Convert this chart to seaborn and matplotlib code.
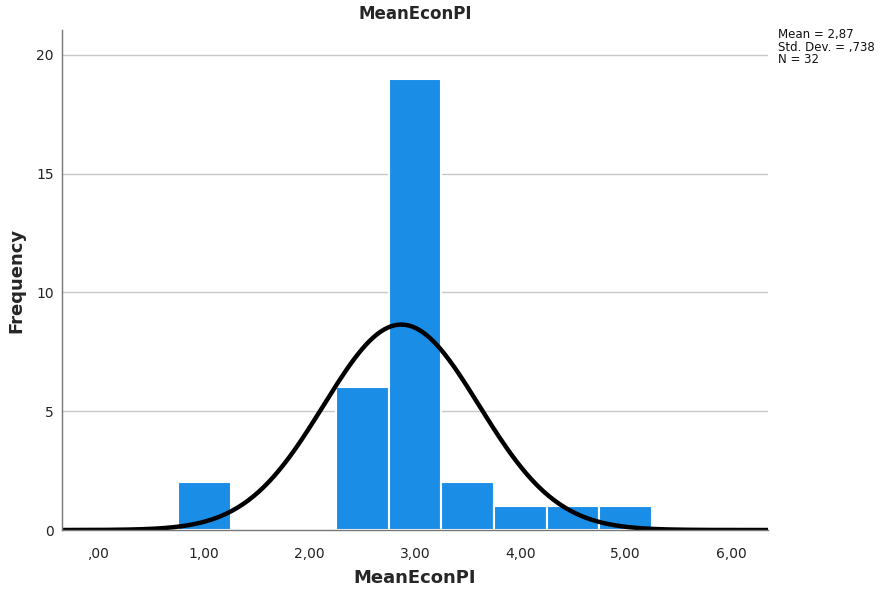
import numpy as np
import pandas as pd
import matplotlib
matplotlib.use("Agg")
import matplotlib.pyplot as plt
import seaborn as sns
from matplotlib.ticker import FuncFormatter

# Histogram of MeanEconPI (bin centres and frequencies)
bin_centers = [1.0, 1.5, 2.0, 2.5, 3.0, 3.5, 4.0, 4.5, 5.0]
frequencies = [2, 0, 0, 6, 19, 2, 1, 1, 1]
bin_width = 0.5

mean_value = 2.87
std_value = 0.738
n_cases = 32

x_ticks = [0, 1, 2, 3, 4, 5, 6]
y_ticks = [0, 5, 10, 15, 20]

df = pd.DataFrame({"MeanEconPI": bin_centers, "Frequency": frequencies})
bin_range = (min(bin_centers) - bin_width / 2, max(bin_centers) + bin_width / 2)

sns.set_theme(style="white")
plt.rcParams["font.family"] = ["DejaVu Sans"]

fig = plt.figure(figsize=(8.83, 5.89), dpi=100)
ax = fig.add_axes([62 / 883, 1 - 530 / 589, (768 - 62) / 883, (530 - 30) / 589])

ax.set_axisbelow(True)
ax.yaxis.grid(True, color="#c8c8c8", linewidth=1.0)
ax.xaxis.grid(False)

sns.histplot(data=df, x="MeanEconPI", weights="Frequency",
             binwidth=bin_width, binrange=bin_range,
             color="#1a8ee6", alpha=1.0, edgecolor="white", linewidth=1.5, ax=ax)

# Normal curve scaled to the histogram counts
xs = np.linspace(-0.35, 6.35, 400)
pdf = np.exp(-0.5 * ((xs - mean_value) / std_value) ** 2) / (std_value * np.sqrt(2 * np.pi))
sns.lineplot(x=xs, y=pdf * n_cases * bin_width, color="black", linewidth=3.2, ax=ax)


def comma_fmt(v, pos):
    s = ("%.2f" % v).replace(".", ",")
    return s[1:] if s.startswith("0,") else s


ax.set_xlim(-0.35, 6.35)
ax.set_ylim(0, 21.05)
ax.set_xticks(x_ticks)
ax.set_yticks(y_ticks)
ax.xaxis.set_major_formatter(FuncFormatter(comma_fmt))
ax.tick_params(axis="both", length=0, labelsize=10, colors="#222222")
ax.tick_params(axis="x", pad=12)
ax.tick_params(axis="y", pad=6)

for side in ["top", "right"]:
    ax.spines[side].set_visible(False)
for side in ["left", "bottom"]:
    ax.spines[side].set_color("#777777")
    ax.spines[side].set_linewidth(1.0)

ax.set_title("MeanEconPI", fontsize=12, fontweight="bold", pad=8)
ax.set_xlabel("MeanEconPI", fontsize=13, fontweight="bold", labelpad=6)
ax.set_ylabel("Frequency", fontsize=13, fontweight="bold", labelpad=8)

fig.text(778 / 883, 1 - 28 / 589,
         "Mean = 2,87\nStd. Dev. = ,738\nN = 32",
         fontsize=8.5, va="top", ha="left", linespacing=0.95, color="#111111")

fig.savefig("out.png", dpi=100)
